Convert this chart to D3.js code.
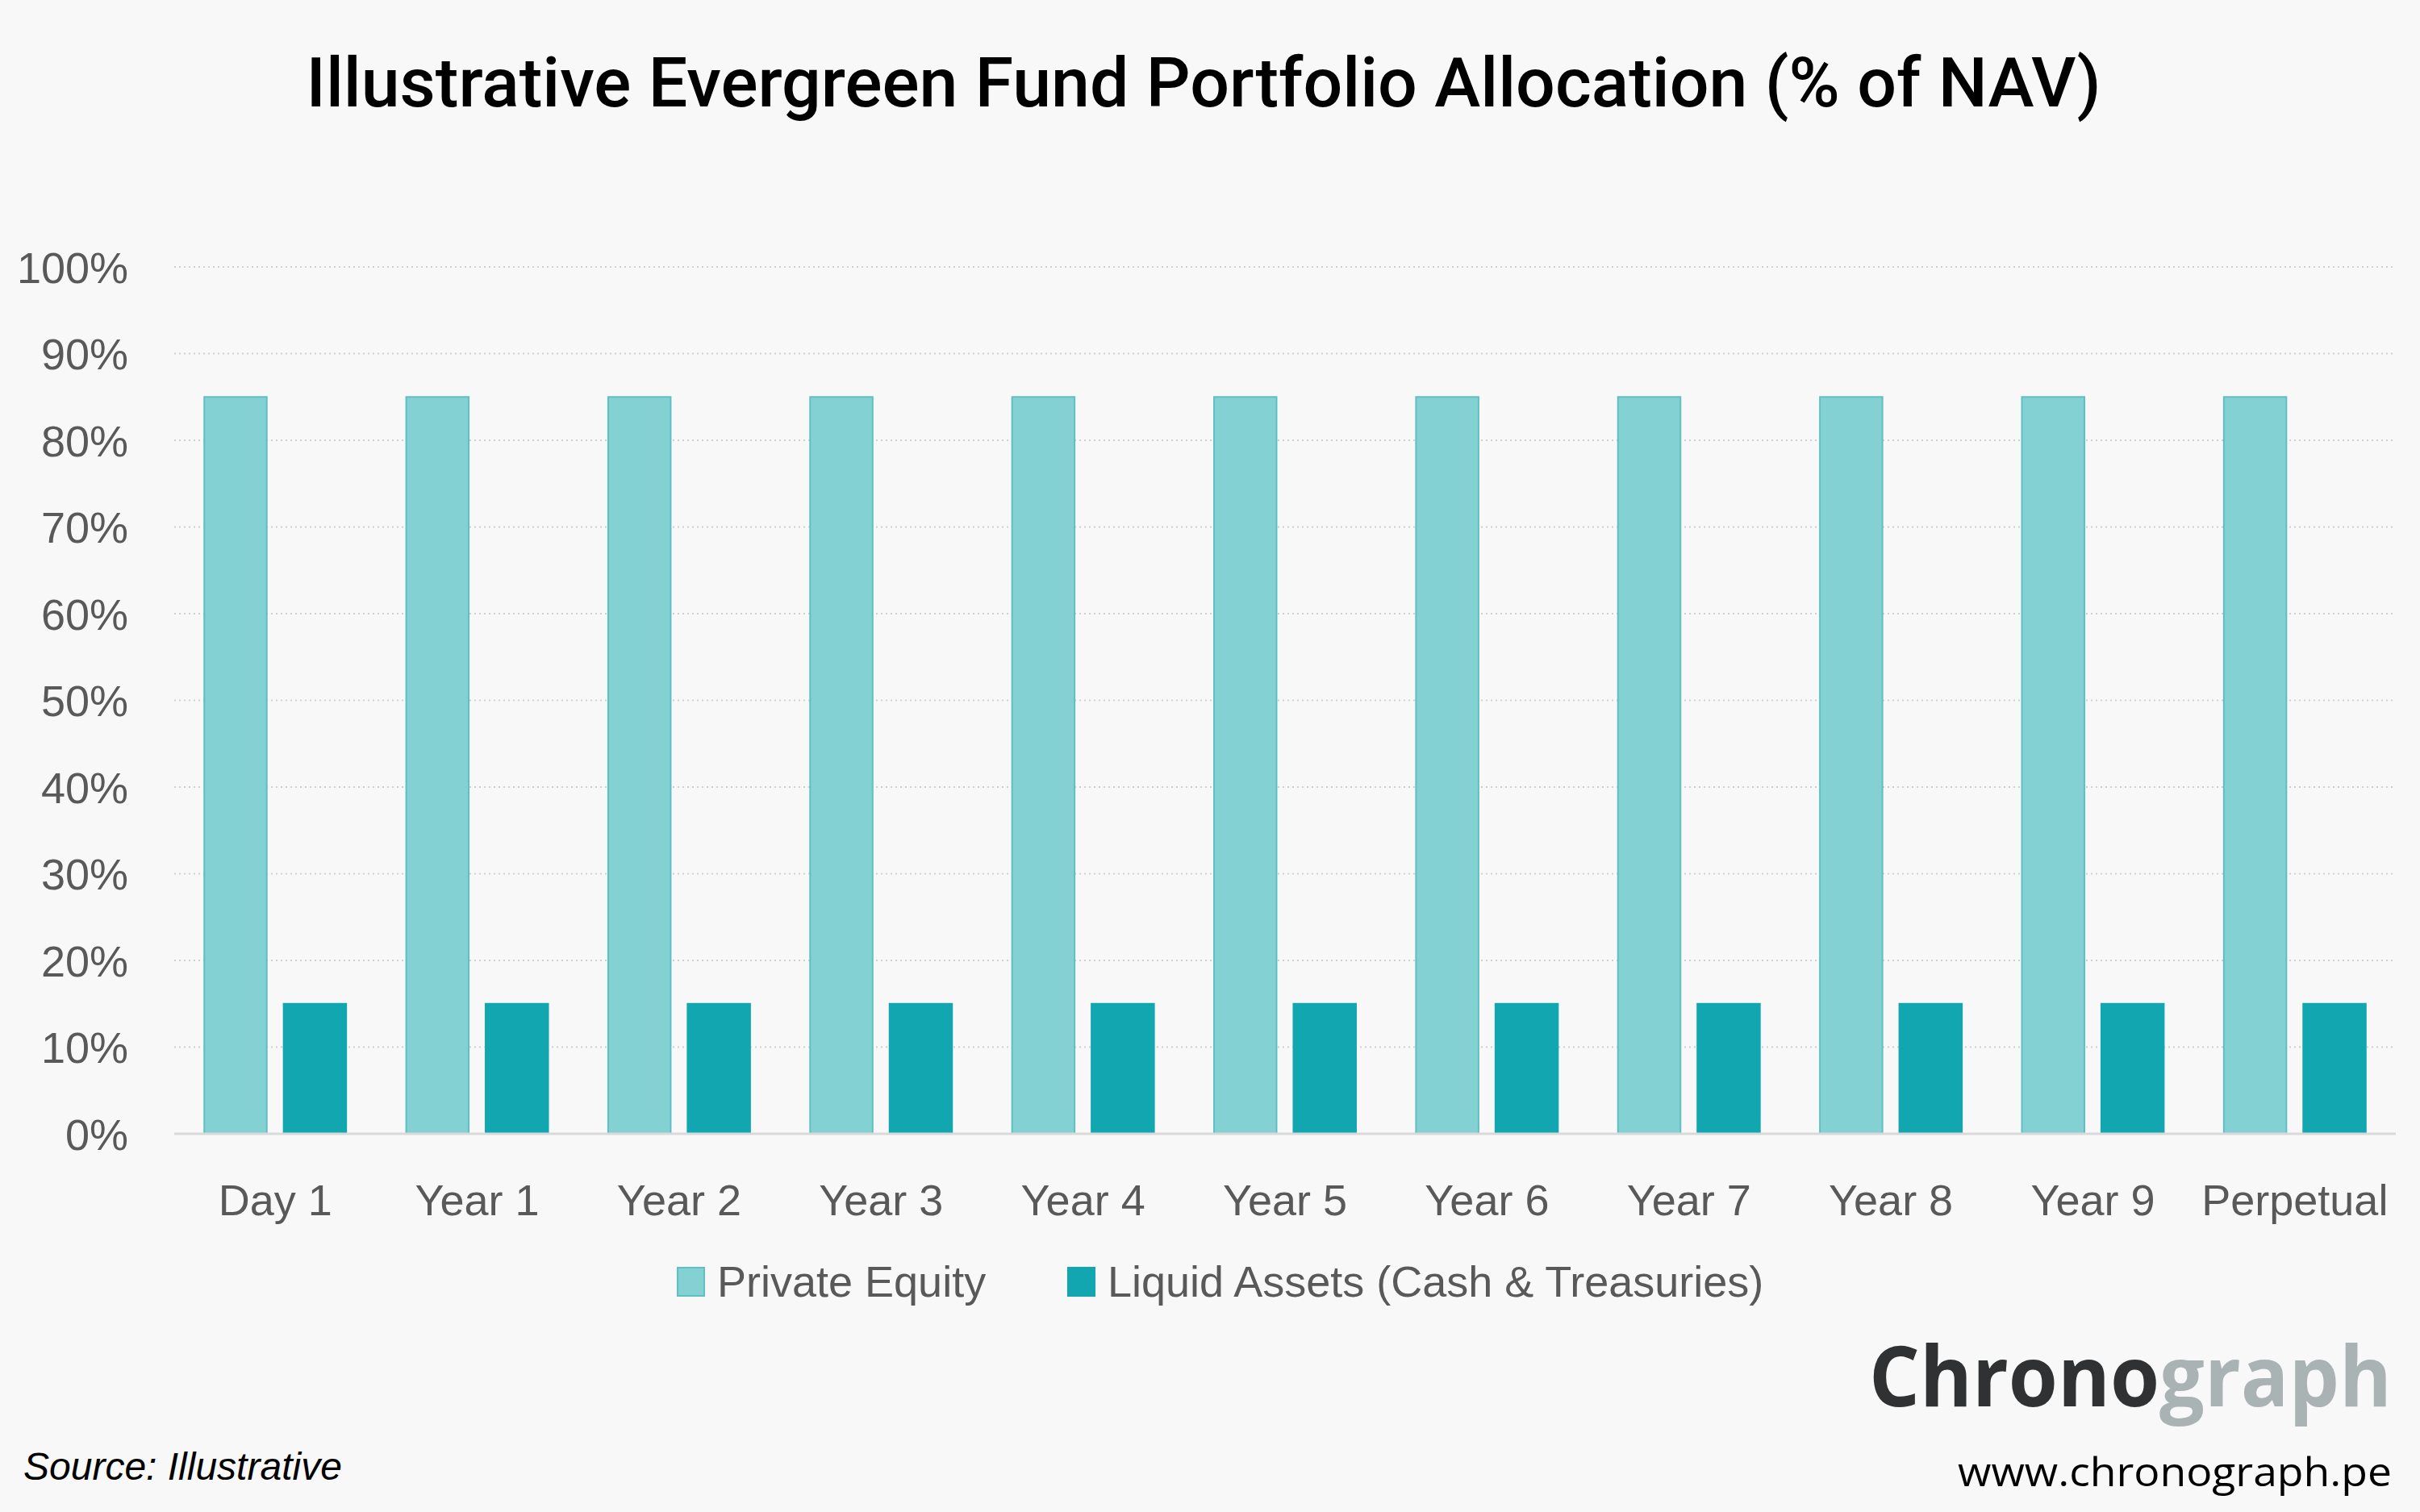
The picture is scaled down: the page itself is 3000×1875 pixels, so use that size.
<!DOCTYPE html>
<html>
	<head>
		<meta charset="utf-8">
		<style type="text/css">
			body { margin: 0; background: #f8f8f8; }
			svg { display: block; }
			.grid line { stroke: #cfcfcf; stroke-width: 2; stroke-dasharray: 2 4; }
			.tick-label { font-family: "Liberation Sans", Arial, sans-serif; fill: #595959; }
		</style>
		<title>Evergreen Fund Portfolio Allocation</title>
	</head>
	<body>
		<script src="https://cdn.jsdelivr.net/npm/d3@7"></script>
		<script>

// data
var categories = ["Day 1", "Year 1", "Year 2", "Year 3", "Year 4", "Year 5", "Year 6", "Year 7", "Year 8", "Year 9", "Perpetual"];
var seriesNames = ["Private Equity", "Liquid Assets (Cash & Treasuries)"];
var privateEquity = [85, 85, 85, 85, 85, 85, 85, 85, 85, 85, 85];
var liquidAssets = [15, 15, 15, 15, 15, 15, 15, 15, 15, 15, 15];
var yTicks = [0, 10, 20, 30, 40, 50, 60, 70, 80, 90, 100];

var W = 3000, H = 1875;
var margin = {top: 331, right: 30, bottom: 469, left: 216},
    width = W - margin.left - margin.right,
    height = H - margin.top - margin.bottom;

var fills = ["#84d1d4", "#12a7b0"];
var strokes = ["#5fbfc3", "#12a7b0"];

var svg = d3.select("body").append("svg")
    .attr("width", W)
    .attr("height", H);

svg.append("rect").attr("width", W).attr("height", H).attr("fill", "#f8f8f8");

// title
svg.append("text")
    .attr("x", 1492)
    .attr("y", 132)
    .attr("text-anchor", "middle")
    .style("font-family", "Roboto, sans-serif")
    .style("font-weight", 500)
    .style("font-size", "86px")
    .style("fill", "#000")
    .text("Illustrative Evergreen Fund Portfolio Allocation (% of NAV)");

var g = svg.append("g")
    .attr("transform", `translate(${margin.left},${margin.top})`);

var x0 = d3.scaleBand().domain(categories).range([0, width]).padding(0);
var x1 = d3.scaleBand().domain(seriesNames).range([0, x0.bandwidth()])
    .paddingInner(0.213).paddingOuter(0.378);
var y = d3.scaleLinear().domain([0, 100]).range([height, 0]);

// dotted gridlines
g.append("g").attr("class", "grid")
  .selectAll("line")
  .data(yTicks.filter(t => t > 0))
  .enter().append("line")
    .attr("x1", 0).attr("x2", width)
    .attr("y1", d => y(d)).attr("y2", d => y(d));

// y axis labels
var yAxis = d3.axisLeft(y).tickValues(yTicks).tickFormat(d => d + "%").tickSize(0).tickPadding(57);
var ya = g.append("g").call(yAxis);
ya.select(".domain").remove();
ya.selectAll("text")
    .attr("class", "tick-label")
    .style("font-size", "54px")
    .attr("dy", "0.36em");

// bars
var rows = categories.map((c, i) => ({cat: c, values: [privateEquity[i], liquidAssets[i]]}));

var groups = g.selectAll(".cat")
  .data(rows)
  .enter().append("g")
    .attr("class", "cat")
    .attr("transform", d => `translate(${x0(d.cat)},0)`);

groups.selectAll("rect")
  .data(d => d.values.map((v, k) => ({name: seriesNames[k], k: k, value: v})))
  .enter().append("rect")
    .attr("x", d => x1(d.name))
    .attr("y", d => y(d.value))
    .attr("width", x1.bandwidth())
    .attr("height", d => height - y(d.value))
    .attr("fill", d => fills[d.k])
    .attr("stroke", d => strokes[d.k])
    .attr("stroke-width", 2);

// baseline
g.append("line")
    .attr("x1", 0).attr("x2", width)
    .attr("y1", y(0)).attr("y2", y(0))
    .attr("stroke", "#d9d9d9")
    .attr("stroke-width", 3);

// x axis labels
var xAxis = d3.axisBottom(x0).tickSize(0).tickPadding(0);
var xa = g.append("g").attr("transform", `translate(0,${height})`).call(xAxis);
xa.select(".domain").remove();
xa.selectAll("text")
    .attr("class", "tick-label")
    .style("font-size", "54px")
    .attr("y", 101)
    .attr("dy", 0);

// legend
var legendX = [840, 1324];
var legend = svg.append("g").selectAll("g")
  .data(seriesNames)
  .enter().append("g")
    .attr("transform", (d, i) => `translate(${legendX[i]},1572)`);

legend.append("rect")
    .attr("width", 33).attr("height", 35)
    .attr("fill", (d, i) => fills[i])
    .attr("stroke", (d, i) => strokes[i])
    .attr("stroke-width", 2);

legend.append("text")
    .attr("class", "tick-label")
    .attr("x", 49)
    .attr("y", 36)
    .style("font-size", "54px")
    .text(d => d);

// source note
svg.append("text")
    .attr("x", 29)
    .attr("y", 1835)
    .style("font-family", "'Liberation Sans', Arial, sans-serif")
    .style("font-style", "italic")
    .style("font-size", "48px")
    .style("fill", "#000")
    .text("Source: Illustrative");

// logo
var logo = svg.append("text")
    .attr("x", 2965)
    .attr("y", 1744)
    .attr("text-anchor", "end")
    .attr("textLength", 648)
    .attr("lengthAdjust", "spacingAndGlyphs")
    .style("font-family", "'Open Sans', sans-serif")
    .style("font-weight", 700)
    .style("font-size", "104px");
logo.append("tspan").attr("fill", "#2f3133").text("Chrono");
logo.append("tspan").attr("fill", "#aab3b3").text("graph");

svg.append("text")
    .attr("x", 2965)
    .attr("y", 1843)
    .attr("text-anchor", "end")
    .attr("textLength", 538)
    .attr("lengthAdjust", "spacingAndGlyphs")
    .style("font-family", "'Open Sans', sans-serif")
    .style("font-size", "50px")
    .style("fill", "#000")
    .text("www.chronograph.pe");

		</script>
	</body>
</html>
